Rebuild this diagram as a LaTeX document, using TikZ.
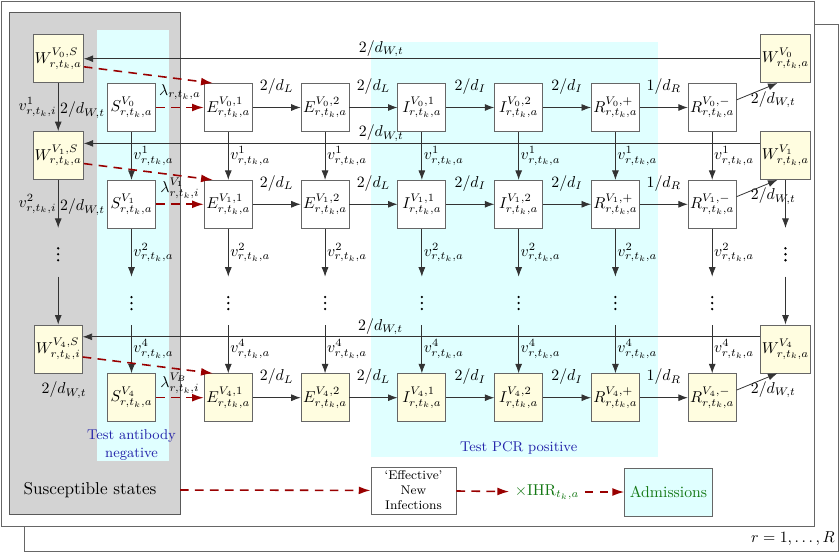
\documentclass[tikz,border=0pt]{standalone}
\usetikzlibrary{positioning, arrows.meta}

\definecolor{testblue}{RGB}{35,35,170}
\definecolor{ihrgreen}{RGB}{20,120,20}
\definecolor{testcyan}{RGB}{224,255,255}
\definecolor{suscgray}{RGB}{211,211,211}

\begin{document}
\begin{tikzpicture}[x=0.0223cm, y=-0.0223cm, node distance = 1.07cm, >={Latex[length=6pt,width=4.4pt]},
  compartment/.style={draw=black!60, line width=0.5pt, fill=white, shape=rectangle, minimum width=1.07cm, minimum height=1.07cm, inner sep=1pt},
  boosted/.style={compartment, fill=yellow!12},
  vdot/.style={shape=rectangle, minimum width=1.07cm, minimum height=1.07cm, inner sep=0pt},
  rate/.style={inner sep=1pt},
  flow/.style={->, draw=black!80, line width=0.5pt},
  infection/.style={-{Latex[length=7.5pt,width=5pt]}, draw=red!60!black, line width=1pt, dash pattern=on 5.5pt off 4pt}]

  \useasboundingbox (0,0) rectangle (839,552);

  % stacked region frames
  \draw[black!60] (24,24) rectangle (838,551);
  \draw[black!60, fill=white] (1,1) rectangle (814,526);
  \node (regions) at (793,539) {$r = 1,\ldots,R$};

  % shaded groups
  \draw[black!65, fill=suscgray] (9,12) rectangle (180,514);
  \fill[testcyan] (97,30) rectangle (169,461);
  \fill[testcyan] (371,42) rectangle (658,457);
  \coordinate (suscedge) at (180,490);

  % first dose row
  \node[compartment] (S-0) at (131.5,107.5) {$S^{V_0}_{r,t_k,a}$};
  \node[compartment, right=of S-0] (E1-0) {$E^{V_0,1}_{r,t_k,a}$};
  \node[compartment, right=of E1-0] (E2-0) {$E^{V_0,2}_{r,t_k,a}$};
  \node[compartment, right=of E2-0] (I1-0) {$I^{V_0,1}_{r,t_k,a}$};
  \node[compartment, right=of I1-0] (I2-0) {$I^{V_0,2}_{r,t_k,a}$};
  \node[compartment, right=of I2-0] (Rp-0) {$R^{V_0,+}_{r,t_k,a}$};
  \node[compartment, right=of Rp-0] (Rm-0) {$R^{V_0,-}_{r,t_k,a}$};

  \node[compartment, below=of S-0] (S-1) {$S^{V_1}_{r,t_k,a}$};
  \node[compartment, below=of E1-0] (E1-1) {$E^{V_1,1}_{r,t_k,a}$};
  \node[compartment, below=of E2-0] (E2-1) {$E^{V_1,2}_{r,t_k,a}$};
  \node[compartment, below=of I1-0] (I1-1) {$I^{V_1,1}_{r,t_k,a}$};
  \node[compartment, below=of I2-0] (I2-1) {$I^{V_1,2}_{r,t_k,a}$};
  \node[compartment, below=of Rp-0] (Rp-1) {$R^{V_1,+}_{r,t_k,a}$};
  \node[compartment, below=of Rm-0] (Rm-1) {$R^{V_1,-}_{r,t_k,a}$};

  \node[vdot, below=of S-1] (S-d) {};
  \node[vdot, below=of E1-1] (E1-d) {};
  \node[vdot, below=of E2-1] (E2-d) {};
  \node[vdot, below=of I1-1] (I1-d) {};
  \node[vdot, below=of I2-1] (I2-d) {};
  \node[vdot, below=of Rp-1] (Rp-d) {};
  \node[vdot, below=of Rm-1] (Rm-d) {};

  \node[boosted, below=of S-d] (S-4) {$S^{V_4}_{r,t_k,a}$};
  \node[boosted, below=of E1-d] (E1-4) {$E^{V_4,1}_{r,t_k,a}$};
  \node[boosted, below=of E2-d] (E2-4) {$E^{V_4,2}_{r,t_k,a}$};
  \node[boosted, below=of I1-d] (I1-4) {$I^{V_4,1}_{r,t_k,a}$};
  \node[boosted, below=of I2-d] (I2-4) {$I^{V_4,2}_{r,t_k,a}$};
  \node[boosted, below=of Rp-d] (Rp-4) {$R^{V_4,+}_{r,t_k,a}$};
  \node[boosted, below=of Rm-d] (Rm-4) {$R^{V_4,-}_{r,t_k,a}$};

  % waned compartments
  \node[boosted, left=0.52cm of S-0.north west, anchor=south east] (W-0S) {$W^{V_0,S}_{r,t_k,a}$};
  \node[boosted, below=of W-0S] (W-1S) {$W^{V_1,S}_{r,t_k,a}$};
  \node[vdot, below=of W-1S] (W-dS) {};
  \node[boosted, below=of W-dS] (W-4S) {$W^{V_4,S}_{r,t_k,i}$};

  \node[boosted, right=0.52cm of Rm-0.north east, anchor=south west] (W-0) {$W^{V_0}_{r,t_k,a}$};
  \node[boosted, below=of W-0] (W-1) {$W^{V_1}_{r,t_k,a}$};
  \node[vdot, below=of W-1] (W-d) {};
  \node[boosted, below=of W-d] (W-4) {$W^{V_4}_{r,t_k,a}$};

  % vertical ellipses
  \foreach \n in {S-d,E1-d,E2-d,I1-d,I2-d,Rp-d,Rm-d,W-dS,W-d} {
    \fill ([yshift=2.5pt]\n) circle (0.8pt);
    \fill ([yshift=-1.3pt]\n) circle (0.8pt);
    \fill ([yshift=-5.1pt]\n) circle (0.8pt);
  }

  \node[text=testblue, font=\small, align=center, below=0.05cm of S-4] (antibodytext) {Test antibody\\negative};
  \node[text=testblue, font=\small, below=0.3cm of I2-4] (pcrtext) {Test PCR positive};

  % vaccination flows
  \foreach \c in {S,E1,E2,I1,I2,Rp,Rm} {
    \draw[flow] (\c-0) -- (\c-1) node[rate, midway, right] {$v^1_{r,t_k,a}$};
    \draw[flow] (\c-1) -- (\c-d) node[rate, midway, right] {$v^2_{r,t_k,a}$};
    \draw[flow] (\c-d) -- (\c-4) node[rate, midway, right] {$v^4_{r,t_k,a}$};
  }

  % progression flows
  \foreach \r in {0,1,4} {
    \draw[flow] (E1-\r) -- (E2-\r) node[rate, midway, above=7pt] {$2/d_L$};
    \draw[flow] (E2-\r) -- (I1-\r) node[rate, midway, above=7pt] {$2/d_L$};
    \draw[flow] (I1-\r) -- (I2-\r) node[rate, midway, above=7pt] {$2/d_I$};
    \draw[flow] (I2-\r) -- (Rp-\r) node[rate, midway, above=7pt] {$2/d_I$};
    \draw[flow] (Rp-\r) -- (Rm-\r) node[rate, midway, above=7pt] {$1/d_R$};
    \draw[flow] ([yshift=0.17cm]Rm-\r.east) -- ([xshift=-0.18cm]W-\r.south) node[rate, pos=0.9, below=0.1cm] {$2/d_{W,t}$};
  }

  % waning back to susceptible
  \draw[flow] (W-0) -- (W-0S) node[rate, pos=0.56, above] {$2/d_{W,t}$};
  \draw[flow] ([yshift=0.27cm]W-1.west) -- ([yshift=0.27cm]W-1S.east) node[rate, pos=0.56, above] {$2/d_{W,t}$};
  \draw[flow] ([yshift=0.27cm]W-4.west) -- ([yshift=0.27cm]W-4S.east) node[rate, pos=0.56, above] {$2/d_{W,t}$};
  \draw[flow] (W-1) -- (W-d);
  \draw[flow] (W-d) -- (W-4);

  \draw[flow] (W-0S) -- (W-1S) node[rate, midway, left] {$v^1_{r,t_k,i}$} node[rate, midway, right, yshift=-2pt] {$2/d_{W,t}$};
  \draw[flow] (W-1S) -- (W-dS) node[rate, midway, left] {$v^2_{r,t_k,i}$} node[rate, midway, right, yshift=-2pt] {$2/d_{W,t}$};
  \draw[flow] (W-dS) -- (W-4S);
  \node[rate, below=0.15cm of W-4S, xshift=0.13cm] (W-4Srate) {$2/d_{W,t}$};

  % infections
  \draw[infection] (S-0) -- (E1-0) node[rate, midway, above=3.5pt] {$\lambda_{r,t_k,a}$};
  \draw[infection] (S-1) -- (E1-1) node[rate, midway, above=2pt] {$\lambda^{V_1}_{r,t_k,i}$};
  \draw[infection] (S-4) -- (E1-4) node[rate, midway, above=1pt] {$\lambda^{V_B}_{r,t_k,i}$};
  \draw[infection] ([yshift=-0.18cm]W-0S.east) -- ([xshift=0.2cm]E1-0.north west);
  \draw[infection] ([yshift=-0.18cm]W-1S.east) -- ([xshift=0.2cm]E1-1.north west);
  \draw[infection] ([yshift=-0.18cm]W-4S.east) -- ([xshift=0.2cm]E1-4.north west);

  % outcomes
  \node[font=\fontsize{10.9}{13}\selectfont] (susclabel) at (90,490) {Susceptible states};
  \node[draw=black!60, fill=white, font=\footnotesize, align=center, minimum width=1.9cm, minimum height=1.05cm, inner sep=1pt] (effective) at (413.5,490.5) {‘Effective’\\New\\Infections};
  \node[text=ihrgreen] (ihr) at (547,492) {$\times\mathrm{IHR}_{t_k,a}$};
  \node[draw=black!60, fill=testcyan, text=ihrgreen, minimum width=1.9cm, minimum height=1.07cm] (admissions) at (668.5,492) {Admissions};

  \draw[infection] (suscedge) -- (effective);
  \draw[infection] (effective) -- (ihr);
  \draw[infection] (ihr) -- (admissions);
\end{tikzpicture}
\end{document}
